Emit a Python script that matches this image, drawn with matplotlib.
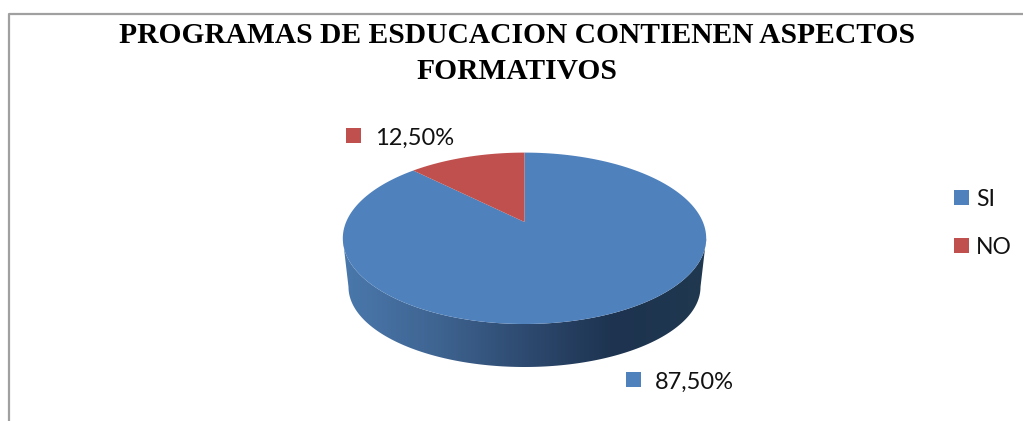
import matplotlib
matplotlib.use('Agg')
import matplotlib.pyplot as plt
from matplotlib.colors import LinearSegmentedColormap
from matplotlib.patches import Rectangle
import numpy as np

# Values
categories = ["SI", "NO"]
values = [87.5, 12.5]
value_labels = ["87,50%", "12,50%"]
colors = ["#4F81BD", "#C0504D"]
title = "PROGRAMAS DE ESDUCACION CONTIENEN ASPECTOS\nFORMATIVOS"

W, H = 1023, 421

# pie geometry in pixels
cx, cy = 524.5, 238.3
rx, ry = 181.7, 85.7
bottom_cy, bottom_rx, bottom_ry = 287.0, 176.0, 80.0
tilt = 0.19


# circle point -> tilted ellipse, the centre moves up like a perspective view
def project(x, y):
    d = 1 + tilt * y
    u = x * np.sqrt(1 - tilt ** 2) / d
    v = (y + tilt) / d
    return cx + rx * u, cy - ry * v


def wedge_outline(start, end):
    t = np.radians(np.linspace(start, end, 200))
    px, py = project(np.sin(t), np.cos(t))
    ax0, ay0 = project(0.0, 0.0)
    return np.r_[ax0, px], np.r_[ay0, py]


fig = plt.figure(figsize=(W / 100, H / 100), dpi=100)
ax = fig.add_axes([0, 0, 1, 1])
ax.set_xlim(0, W)
ax.set_ylim(H, 0)
ax.axis('off')

# chart frame, cut by the image edge
ax.plot([9, 9, W + 5], [H + 5, 14.2, 14.2], color="#a0a0a0", lw=1.6)

# side wall with a horizontal gradient
wall_cmap = LinearSegmentedColormap.from_list(
    "wall", [(0.0, "#4A78AC"), (0.25, "#3F6592"), (0.5, "#2E4A70"),
             (0.75, "#1D334F"), (1.0, "#203850")])
grad = np.linspace(0, 1, 512).reshape(1, -1)
im = ax.imshow(grad, cmap=wall_cmap, aspect='auto', zorder=1,
               extent=[cx - rx, cx + rx, bottom_cy + bottom_ry + 1, cy - 5])
ax.set_xlim(0, W)
ax.set_ylim(H, 0)
t = np.linspace(0, np.pi, 300)
wall_x = np.r_[cx + rx * np.cos(t), cx + bottom_rx * np.cos(t[::-1])]
wall_y = np.r_[cy + ry * np.sin(t), bottom_cy + bottom_ry * np.sin(t[::-1])]
wall = ax.fill(wall_x, wall_y, color="none", lw=0, zorder=1)[0]
im.set_clip_path(wall)

# top face, slices run clockwise from 12 o'clock
start = 0.0
for value, color in zip(values, colors):
    end = start + 360 * value / sum(values)
    wx, wy = wedge_outline(start, end)
    ax.fill(wx, wy, color=color, lw=0, zorder=2)
    start = end

# data labels with their colour keys
label_pos = [(626, 372), (346, 128)]
for (lx, ly), text, color in zip(label_pos, value_labels, colors):
    ax.add_patch(Rectangle((lx, ly), 15, 15, color=color, lw=0))
    ax.text(lx + 29, ly + 17, text, fontsize=17, family="Lato",
            va='baseline', ha='left', color="#111111")

# legend
legend_y = [190, 238]
for y, text, color in zip(legend_y, categories, colors):
    ax.add_patch(Rectangle((954, y), 15, 15, color=color, lw=0))
    ax.text(976, y + 16, text, fontsize=16.5, family="Lato",
            va='baseline', ha='left', color="#111111")

ax.text(517, 53.5, title, fontsize=21.25, family="Liberation Serif", weight='bold',
        ha='center', va='center', linespacing=1.4, color="#000000")

fig.savefig("out.png", dpi=100)
